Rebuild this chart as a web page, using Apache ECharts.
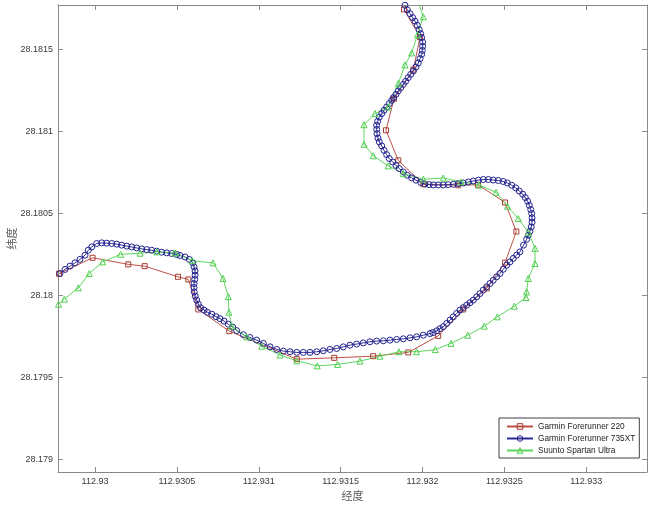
<!DOCTYPE html>
<html><head><meta charset="utf-8">
<script src="https://cdn.jsdelivr.net/npm/echarts@6/dist/echarts.min.js"></script>
<style>html,body{margin:0;padding:0;background:#fff}#c{width:660px;height:508px}</style>
</head><body><div id="c"></div>
<script>
const seriesNames = ['Garmin Forerunner 220', 'Garmin Forerunner 735XT', 'Suunto Spartan Ultra'];
const xName = '经度';
const yName = '纬度';
const xRange = [112.929774, 112.933371];
const yRange = [28.178925, 28.181772];
const tickStep = 0.0005;

const fr220Lon = [112.931887, 112.931985, 112.931944, 112.931826, 112.931777, 112.931852, 112.932005, 112.932218, 112.932339, 112.932504, 112.932573, 112.932504, 112.932392, 112.932249, 112.932096, 112.931913, 112.931699, 112.931461, 112.931232, 112.930820, 112.930631, 112.930570, 112.930507, 112.930303, 112.930203, 112.929985, 112.929780];
const fr220Lat = [28.181745, 28.181576, 28.181378, 28.181201, 28.181008, 28.180825, 28.180679, 28.180673, 28.180676, 28.180568, 28.180391, 28.180201, 28.180044, 28.179916, 28.179755, 28.179654, 28.179631, 28.179621, 28.179613, 28.179784, 28.179916, 28.180099, 28.180115, 28.180180, 28.180191, 28.180231, 28.180134];

const fr735Lon = [
112.931893, 112.931907, 112.931924, 112.931940, 112.931954, 112.931968, 112.931980, 112.931989, 112.931995, 112.932001,
112.932001, 112.931999, 112.931995, 112.931985, 112.931974, 112.931960, 112.931944, 112.931928, 112.931913, 112.931897,
112.931883, 112.931867, 112.931852, 112.931838, 112.931822, 112.931812, 112.931797, 112.931781, 112.931765, 112.931751,
112.931736, 112.931726, 112.931720, 112.931720, 112.931722, 112.931728, 112.931736, 112.931751, 112.931765, 112.931781,
112.931797, 112.931818, 112.931838, 112.931858, 112.931883, 112.931907, 112.931934, 112.931960, 112.931989, 112.932015,
112.932041, 112.932066, 112.932096, 112.932127, 112.932157, 112.932188, 112.932218, 112.932249, 112.932280, 112.932310,
112.932341, 112.932371, 112.932402, 112.932432, 112.932463, 112.932493, 112.932518, 112.932545, 112.932569, 112.932591,
112.932612, 112.932628, 112.932642, 112.932652, 112.932661, 112.932667, 112.932669, 112.932669, 112.932664, 112.932656,
112.932646, 112.932636, 112.932617, 112.932595, 112.932575, 112.932554, 112.932534, 112.932514, 112.932493, 112.932473,
112.932453, 112.932432, 112.932412, 112.932392, 112.932371, 112.932351, 112.932331, 112.932310, 112.932290, 112.932270,
112.932249, 112.932229, 112.932209, 112.932188, 112.932168, 112.932148, 112.932127, 112.932107, 112.932087, 112.932064,
112.932046, 112.932005, 112.931964, 112.931924, 112.931883, 112.931842, 112.931801, 112.931761, 112.931720, 112.931679,
112.931638, 112.931598, 112.931557, 112.931516, 112.931476, 112.931435, 112.931394, 112.931354, 112.931313, 112.931272,
112.931232, 112.931191, 112.931150, 112.931110, 112.931069, 112.931028, 112.930987, 112.930946, 112.930906, 112.930865,
112.930841, 112.930814, 112.930788, 112.930763, 112.930739, 112.930713, 112.930686, 112.930666, 112.930645, 112.930631,
112.930621, 112.930612, 112.930606, 112.930605, 112.930605, 112.930609, 112.930611, 112.930611, 112.930605, 112.930597,
112.930576, 112.930550, 112.930519, 112.930499, 112.930468, 112.930438, 112.930407, 112.930377, 112.930346, 112.930316,
112.930285, 112.930255, 112.930224, 112.930194, 112.930163, 112.930133, 112.930102, 112.930071, 112.930041, 112.930010,
112.929980, 112.929959, 112.929939, 112.929908, 112.929878, 112.929847, 112.929817, 112.929786];
const fr735Lat = [
28.181770, 28.181743, 28.181719, 28.181695, 28.181674, 28.181648, 28.181622, 28.181597, 28.181573, 28.181546,
28.181520, 28.181495, 28.181471, 28.181445, 28.181418, 28.181394, 28.181369, 28.181349, 28.181329, 28.181307,
28.181288, 28.181268, 28.181248, 28.181227, 28.181207, 28.181191, 28.181171, 28.181150, 28.181130, 28.181110,
28.181089, 28.181063, 28.181039, 28.181014, 28.180988, 28.180961, 28.180937, 28.180913, 28.180886, 28.180860,
28.180836, 28.180815, 28.180794, 28.180775, 28.180754, 28.180734, 28.180718, 28.180704, 28.180690, 28.180681,
28.180677, 28.180675, 28.180675, 28.180675, 28.180677, 28.180679, 28.180683, 28.180687, 28.180693, 28.180699,
28.180704, 28.180708, 28.180708, 28.180705, 28.180702, 28.180696, 28.180687, 28.180673, 28.180657, 28.180638,
28.180618, 28.180598, 28.180576, 28.180551, 28.180525, 28.180501, 28.180474, 28.180448, 28.180419, 28.180393,
28.180369, 28.180344, 28.180308, 28.180267, 28.180247, 28.180227, 28.180206, 28.180186, 28.180161, 28.180135,
28.180115, 28.180094, 28.180074, 28.180054, 28.180034, 28.180013, 28.179993, 28.179973, 28.179957, 28.179942,
28.179927, 28.179912, 28.179892, 28.179871, 28.179851, 28.179831, 28.179811, 28.179799, 28.179786, 28.179775,
28.179769, 28.179759, 28.179749, 28.179743, 28.179737, 28.179733, 28.179729, 28.179725, 28.179723, 28.179719,
28.179712, 28.179705, 28.179698, 28.179688, 28.179678, 28.179672, 28.179664, 28.179658, 28.179654, 28.179654,
28.179654, 28.179658, 28.179662, 28.179672, 28.179688, 28.179709, 28.179729, 28.179745, 28.179762, 28.179787,
28.179808, 28.179826, 28.179845, 28.179860, 28.179872, 28.179887, 28.179899, 28.179912, 28.179926, 28.179948,
28.179973, 28.179997, 28.180023, 28.180050, 28.180074, 28.180099, 28.180125, 28.180151, 28.180175, 28.180200,
28.180221, 28.180236, 28.180245, 28.180251, 28.180257, 28.180261, 28.180265, 28.180271, 28.180277, 28.180281,
28.180285, 28.180291, 28.180297, 28.180302, 28.180308, 28.180314, 28.180318, 28.180320, 28.180322, 28.180318,
28.180297, 28.180277, 28.180247, 28.180221, 28.180200, 28.180180, 28.180160, 28.180135];

const suuntoLon = [
112.931979, 112.932005, 112.931969, 112.931934, 112.931893, 112.931852, 112.931791, 112.931710, 112.931643, 112.931643,
112.931699, 112.931791, 112.931883, 112.932005, 112.932127, 112.932235, 112.932345, 112.932449, 112.932519, 112.932585,
112.932646, 112.932687, 112.932687, 112.932646, 112.932636, 112.932632, 112.932561, 112.932457, 112.932377, 112.932276,
112.932174, 112.932078, 112.931964, 112.931856, 112.931740, 112.931618, 112.931482, 112.931357, 112.931232, 112.931130,
112.931018, 112.930926, 112.930835, 112.930818, 112.930814, 112.930782, 112.930721, 112.930594, 112.930489, 112.930377,
112.930275, 112.930156, 112.930047, 112.929965, 112.929898, 112.929813, 112.929777];
const suuntoLat = [
28.181776, 28.181700, 28.181590, 28.181480, 28.181407, 28.181293, 28.181150, 28.181110, 28.181042, 28.180923,
28.180853, 28.180791, 28.180744, 28.180710, 28.180717, 28.180694, 28.180674, 28.180630, 28.180545, 28.180470,
28.180387, 28.180288, 28.180196, 28.180105, 28.180023, 28.179989, 28.179936, 28.179871, 28.179814, 28.179759,
28.179709, 28.179671, 28.179658, 28.179658, 28.179631, 28.179601, 28.179581, 28.179572, 28.179603, 28.179638,
28.179692, 28.179749, 28.179814, 28.179899, 28.179994, 28.180105, 28.180200, 28.180213, 28.180261, 28.180267,
28.180259, 28.180252, 28.180206, 28.180135, 28.180048, 28.179979, 28.179948];

const pair = (xs, ys) => xs.map((x, i) => [x, ys[i]]);
const numFont = 'Liberation Sans, Arial, Helvetica, sans-serif';
const cjkFont = 'Noto Sans CJK SC, sans-serif';
const axisGray = '#8a8a8a';
const labelFmt = v => String(Math.round(v * 1e4) / 1e4);
const clear = 'rgba(255,255,255,0)';
const styles = [
  { line: '#c0504a', mark: '#a83c32', symbol: 'rect', size: 5 },
  { line: '#2b2b99', mark: '#23238f', symbol: 'circle', size: 6 },
  { line: '#5ed65e', mark: '#4fcf4f', symbol: 'triangle', size: 6 }
];

function valueAxis(range, pos, main, name, gap) {
  return {
    type: 'value', position: pos, min: range[0], max: range[1],
    splitNumber: 7, minInterval: tickStep, maxInterval: tickStep, scale: true,
    axisLine: { show: true, onZero: false, lineStyle: { color: axisGray, width: 1 } },
    axisTick: { show: true, inside: true, length: 5, lineStyle: { color: axisGray } },
    axisLabel: { show: main, showMinLabel: false, showMaxLabel: false, formatter: labelFmt,
      color: '#3a3a3a', fontSize: 9, fontFamily: numFont, margin: 5 },
    splitLine: { show: false },
    name: main ? name : '', nameLocation: 'middle', nameGap: gap, nameMoveOverlap: false,
    nameTextStyle: { color: '#5a5a5a', fontSize: 11, fontFamily: cjkFont }
  };
}

const chart = echarts.init(document.getElementById('c'), null, { renderer: 'canvas' });
chart.setOption({
  animation: false,
  backgroundColor: '#fff',
  grid: { left: 58, right: 13, top: 5, bottom: 36, containLabel: false, outerBoundsMode: 'none' },
  xAxis: [valueAxis(xRange, 'bottom', true, xName, 18), valueAxis(xRange, 'top', false, '', 0)],
  yAxis: [valueAxis(yRange, 'left', true, yName, 41), valueAxis(yRange, 'right', false, '', 0)],
  legend: {
    orient: 'vertical', left: 499, top: 418,
    backgroundColor: '#fff', borderColor: '#404040', borderWidth: 1,
    padding: [3, 4, 2, 7], itemWidth: 26, itemHeight: 7, itemGap: 1,
    textStyle: { fontSize: 8.3, fontFamily: numFont, color: '#222', lineHeight: 11 },
    data: seriesNames.map((n, i) => ({ name: n,
      itemStyle: { color: clear, borderColor: styles[i].mark, borderWidth: 1 } }))
  },
  series: seriesNames.map((n, i) => ({
    name: n, type: 'line',
    data: i === 0 ? pair(fr220Lon, fr220Lat) : i === 1 ? pair(fr735Lon, fr735Lat) : pair(suuntoLon, suuntoLat),
    symbol: styles[i].symbol, symbolSize: styles[i].size, showAllSymbol: true,
    lineStyle: { color: styles[i].line, width: 1 },
    itemStyle: { color: clear, borderColor: styles[i].mark, borderWidth: 1 }
  }))
});
</script></body></html>
